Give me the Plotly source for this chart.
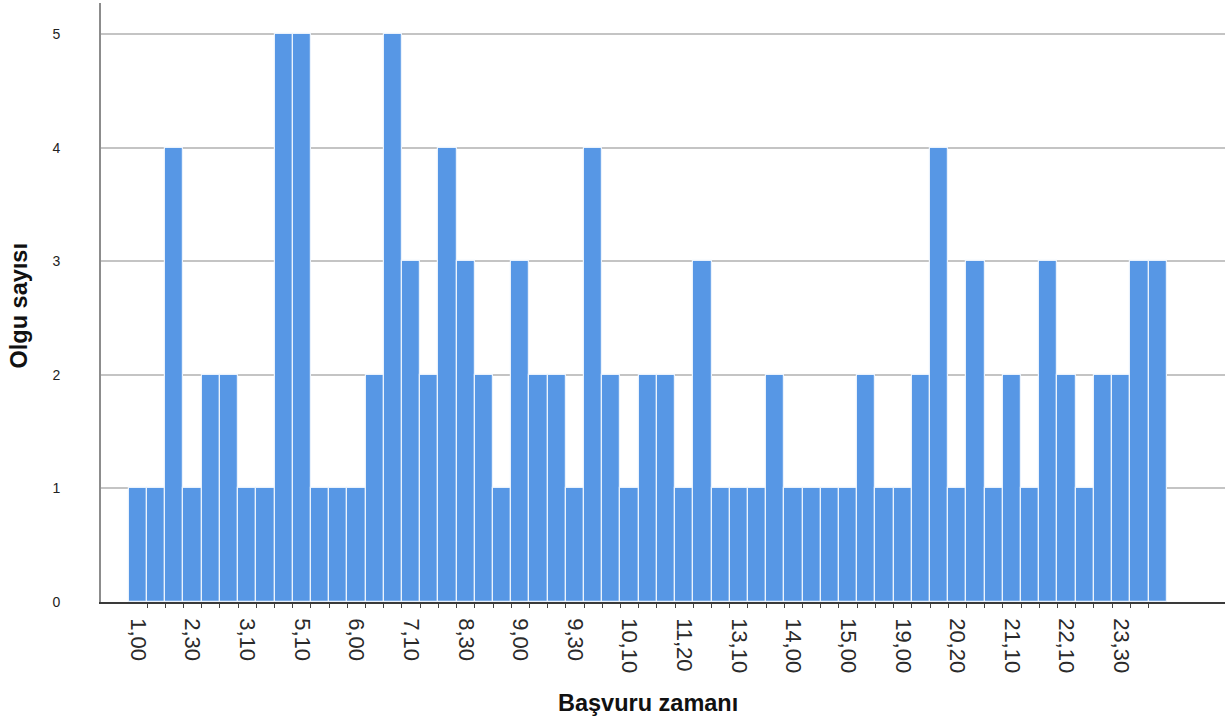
import plotly.graph_objects as go

# Olgu sayısı (case counts) for each of the 57 time categories, left to right
counts = [1, 1, 4, 1, 2, 2, 1, 1, 5, 5,
          1, 1, 1, 2, 5, 3, 2, 4, 3, 2,
          1, 3, 2, 2, 1, 4, 2, 1, 2, 2,
          1, 3, 1, 1, 1, 2, 1, 1, 1, 1,
          2, 1, 1, 2, 4, 1, 3, 1, 2, 1,
          3, 2, 1, 2, 2, 3, 3]

# Visible category labels (every third category is labelled)
tick_labels = ["1,00", "2,30", "3,10", "5,10", "6,00", "7,10", "8,30", "9,00",
               "9,30", "10,10", "11,20", "13,10", "14,00", "15,00", "19,00",
               "20,20", "21,10", "22,10", "23,30"]
label_step = 3

x_title = "Başvuru zamanı"
y_title = "Olgu sayısı"

n = len(counts)
xs = list(range(n))
tickvals = xs[::label_step][:len(tick_labels)]
boundaries = [i + 0.5 for i in range(n - 1)]

fig = go.Figure(
    go.Bar(
        x=xs,
        y=counts,
        marker=dict(color="#5797E5", line=dict(color="#EAF2FC", width=1.2)),
        width=1,
    )
)

fig.update_layout(
    width=1229,
    height=722,
    margin=dict(l=101, r=4, t=3, b=120),
    paper_bgcolor="white",
    plot_bgcolor="white",
    bargap=0,
    showlegend=False,
    font=dict(family="Liberation Sans, Arial, sans-serif", color="#222222"),
)

fig.update_xaxes(
    range=[-2.03, 59.7],
    tickmode="array",
    tickvals=tickvals,
    ticktext=tick_labels,
    tickangle=90,
    tickfont=dict(size=22, color="#2A2A2A"),
    ticks="",
    ticklabelstandoff=10,
    minor=dict(tickmode="array", tickvals=boundaries, ticks="outside",
               ticklen=4, tickcolor="#444444", tickwidth=1, showgrid=False),
    showgrid=False,
    zeroline=False,
    showline=True,
    linecolor="#3A3A3A",
    linewidth=1.5,
)

fig.update_yaxes(
    range=[0, 5.273],
    tickmode="array",
    tickvals=[0, 1, 2, 3, 4, 5],
    tickfont=dict(size=14, color="#222222"),
    ticks="",
    ticklabelstandoff=36,
    showgrid=True,
    gridcolor="#C4C4C4",
    gridwidth=1.5,
    zeroline=False,
    showline=True,
    linecolor="#8C8C8C",
    linewidth=2,
)

fig.add_annotation(
    text=f"<b>{x_title}</b>",
    xref="x", yref="paper",
    x=(n - 1) / 2, y=-0.1686,
    xanchor="center", yanchor="middle",
    showarrow=False,
    font=dict(size=23.5, color="#111111"),
)
fig.add_annotation(
    text=f"<b>{y_title}</b>",
    xref="paper", yref="paper",
    x=-0.0721, y=0.495,
    xanchor="center", yanchor="middle",
    textangle=-90,
    showarrow=False,
    font=dict(size=23.5, color="#111111"),
)

fig.write_html(
    "out.html",
    config={"displayModeBar": False},
    post_script="document.body.style.margin='0';document.body.style.padding='0';",
)
